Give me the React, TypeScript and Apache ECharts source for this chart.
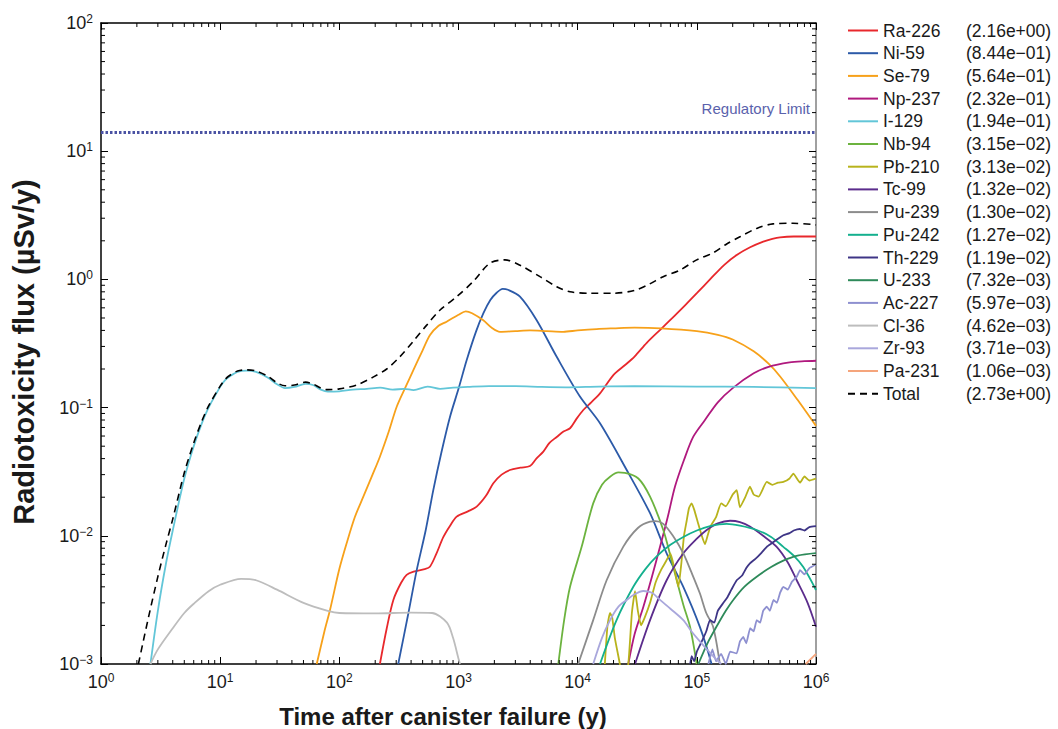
import React, { useEffect, useRef } from "react";
import * as echarts from "echarts";

const FONT = '"Liberation Sans", Arial, Helvetica, sans-serif';

const X_MIN = 1;
const X_MAX = 1e6;
const Y_MIN = 1e-3;
const Y_MAX = 1e2;
const REG_LIMIT = 14;

const RA226: number[][] = [[219,1e-3],[250,1.9e-3],[284,3.16e-3],[330,4.3e-3],[367,4.95e-3],[420,5.25e-3],[520,5.5e-3],[575,5.74e-3],[650,7.2e-3],[747,9.8e-3],[850,1.2e-2],[966,1.41e-2],[1200,1.55e-2],[1421,1.69e-2],[1700,2.05e-2],[1960,2.57e-2],[2300,3.0e-2],[2700,3.26e-2],[3300,3.4e-2],[3980,3.5e-2],[4500,4.0e-2],[5150,4.53e-2],[5800,5.3e-2],[6670,5.9e-2],[7600,6.5e-2],[8630,6.9e-2],[9800,8.2e-2],[11150,9.58e-2],[13000,1.1e-1],[15400,1.29e-1],[20000,1.8e-1],[25000,2.15e-1],[30000,2.5e-1],[38000,3.2e-1],[50000,4.1e-1],[65000,5.2e-1],[80000,6.3e-1],[100000,7.8e-1],[129000,1.0],[170000,1.3],[216000,1.55],[280000,1.78],[361000,1.97],[430000,2.07],[499000,2.13],[650000,2.16],[1e6,2.16]];
const NI59: number[][] = [[312,1e-3],[380,2.5e-3],[446,5.4e-3],[530,1.1e-2],[615,2.28e-2],[720,4.5e-2],[849,8.49e-2],[1000,1.4e-1],[1172,2.35e-1],[1400,3.9e-1],[1615,5.43e-1],[1850,6.9e-1],[2090,7.87e-1],[2350,8.44e-1],[2600,8.3e-1],[3281,7.33e-1],[4530,4.8e-1],[6670,2.49e-1],[10450,1.22e-1],[15400,7.55e-2],[25800,3.26e-2],[40500,1.5e-2],[55800,7.3e-3],[77000,4e-3],[106000,1.95e-3],[133000,1e-3]];
const SE79: number[][] = [[64.6,1e-3],[75,1.8e-3],[83.5,2.64e-3],[100,5.5e-3],[115,8.7e-3],[135,1.4e-2],[159,2.02e-2],[190,3e-2],[219,4.14e-2],[260,6.5e-2],[303,1.016e-1],[360,1.45e-1],[418,1.96e-1],[500,2.8e-1],[577,3.68e-1],[680,4.35e-1],[795,4.68e-1],[1000,5.3e-1],[1150,5.64e-1],[1300,5.45e-1],[1615,4.8e-1],[1900,4.2e-1],[2230,3.9e-1],[3000,3.95e-1],[3980,4.0e-1],[5500,3.95e-1],[7570,3.9e-1],[10000,4.0e-1],[14450,4.1e-1],[20000,4.15e-1],[30000,4.2e-1],[50000,4.15e-1],[100000,3.95e-1],[150000,3.7e-1],[200000,3.4e-1],[300000,2.75e-1],[400000,2.2e-1],[500000,1.75e-1],[700000,1.15e-1],[1e6,7.2e-2]];
const NP237: number[][] = [[26600,1e-3],[30000,1.7e-3],[35600,2.8e-3],[42000,4.8e-3],[49100,8.2e-3],[57000,1.4e-2],[65600,2.42e-2],[78000,3.9e-2],[93400,5.93e-2],[117000,8.0e-2],[150000,1.1e-1],[200000,1.42e-1],[300000,1.85e-1],[400000,2.08e-1],[600000,2.25e-1],[800000,2.3e-1],[1e6,2.32e-1]];
const I129: number[][] = [[2.6,1e-3],[3,2.6e-3],[3.5,6e-3],[4,1.1e-2],[5,2.8e-2],[6,5e-2],[7,7.5e-2],[8,1e-1],[10,1.45e-1],[11,1.64e-1],[12,1.75e-1],[14,1.9e-1],[16.7,1.94e-1],[20,1.9e-1],[25,1.72e-1],[30,1.52e-1],[35,1.42e-1],[42,1.45e-1],[52,1.53e-1],[60,1.5e-1],[70,1.38e-1],[80,1.33e-1],[100,1.34e-1],[130,1.38e-1],[170,1.4e-1],[220,1.43e-1],[280,1.38e-1],[350,1.4e-1],[420,1.37e-1],[550,1.46e-1],[700,1.4e-1],[900,1.43e-1],[1200,1.45e-1],[1800,1.47e-1],[3000,1.47e-1],[5000,1.45e-1],[8000,1.44e-1],[15000,1.46e-1],[30000,1.47e-1],[100000,1.46e-1],[300000,1.45e-1],[1e6,1.42e-1]];
const NB94: number[][] = [[6880,1e-3],[7700,2.2e-3],[8630,4e-3],[10800,8.2e-3],[13500,1.79e-2],[16000,2.5e-2],[18700,2.89e-2],[22000,3.12e-2],[24900,3.1e-2],[32300,2.8e-2],[40500,2.02e-2],[52300,1.11e-2],[60000,7e-3],[67800,4.5e-3],[77000,2.9e-3],[87700,1.95e-3],[99700,1e-3]];
const PB210: number[][] = [[16900,1e-3],[17800,2e-3],[18700,2.5e-3],[19500,2.3e-3],[20500,1.6e-3],[22600,1e-3],[24000,7e-4],[26600,1e-3],[28500,2.5e-3],[30300,3.7e-3],[32000,2.6e-3],[34000,2e-3],[36500,2.3e-3],[40500,3e-3],[45000,4.3e-3],[50000,5.4e-3],[55000,6.3e-3],[60000,7.3e-3],[65000,5.5e-3],[70000,4e-3],[74000,6e-3],[78000,1e-2],[82200,1.31e-2],[86000,1.65e-2],[90500,1.79e-2],[95000,1.6e-2],[102000,1.27e-2],[110000,1e-2],[117000,8.6e-3],[123000,1e-2],[130000,1.18e-2],[145000,1.4e-2],[160000,1.79e-2],[175000,1.7e-2],[200000,2.1e-2],[216000,2.27e-2],[230000,1.67e-2],[255000,2.0e-2],[279000,2.42e-2],[300000,2.1e-2],[330000,2.02e-2],[386000,2.63e-2],[430000,2.5e-2],[480000,2.6e-2],[532000,2.63e-2],[600000,2.8e-2],[646000,3.06e-2],[700000,2.75e-2],[734000,2.6e-2],[800000,2.9e-2],[880000,2.7e-2],[1e6,2.8e-2]];
const TC99: number[][] = [[30300,1e-3],[40500,2.2e-3],[55800,4.5e-3],[77000,7.3e-3],[100000,9.5e-3],[121000,1.11e-2],[150000,1.25e-2],[190000,1.31e-2],[230000,1.28e-2],[279000,1.18e-2],[360000,1.0e-2],[468000,8.2e-3],[580000,6.2e-3],[689000,4.5e-3],[850000,3e-3],[1e6,1.95e-3]];
const PU239: number[][] = [[10100,1e-3],[13500,2.2e-3],[17500,4.5e-3],[24100,8.2e-3],[32000,1.15e-2],[40500,1.29e-2],[45000,1.3e-2],[52300,1.24e-2],[63000,1e-2],[77000,7.3e-3],[90000,5.2e-3],[106000,3.56e-3],[120000,2.5e-3],[137000,1.95e-3],[156000,1e-3]];
const PU242: number[][] = [[15400,1e-3],[21200,2.2e-3],[29300,4e-3],[37000,5.5e-3],[46000,6.9e-3],[60000,8.5e-3],[77000,9.8e-3],[100000,1.1e-2],[129000,1.19e-2],[178000,1.24e-2],[230000,1.2e-2],[318000,1.11e-2],[420000,9.8e-3],[532000,8.2e-3],[650000,7e-3],[782000,5.7e-3],[1e6,3.78e-3]];
const TH229: number[][] = [[88000,1e-3],[90500,1.15e-3],[95000,1.05e-3],[100000,1.25e-3],[110000,1.5e-3],[120000,1.8e-3],[129000,2.2e-3],[140000,2.1e-3],[150000,2.6e-3],[167000,3.0e-3],[180000,3.3e-3],[195000,3.8e-3],[216000,4.5e-3],[240000,4.9e-3],[260000,5.6e-3],[279000,6.1e-3],[310000,6.6e-3],[350000,7.4e-3],[386000,8.2e-3],[430000,8.8e-3],[480000,9.5e-3],[532000,1.01e-2],[600000,1.05e-2],[650000,1.1e-2],[734000,1.13e-2],[800000,1.1e-2],[880000,1.17e-2],[1e6,1.19e-2]];
const U233: number[][] = [[103000,1e-3],[125000,1.5e-3],[146000,1.95e-3],[175000,2.6e-3],[202000,3.16e-3],[250000,4e-3],[318000,4.8e-3],[420000,5.7e-3],[532000,6.4e-3],[700000,7e-3],[1e6,7.32e-3]];
const AC227: number[][] = [[125000,1e-3],[135000,1.3e-3],[145000,1.05e-3],[160000,1.2e-3],[175000,1.0e-3],[190000,1.25e-3],[216000,1.21e-3],[230000,1.5e-3],[245000,1.63e-3],[260000,1.45e-3],[280000,1.9e-3],[300000,1.8e-3],[318000,2.2e-3],[340000,2.1e-3],[360000,2.6e-3],[386000,2.8e-3],[410000,2.6e-3],[440000,3.16e-3],[470000,3.0e-3],[500000,3.6e-3],[532000,4e-3],[580000,3.8e-3],[630000,4.4e-3],[690000,4.8e-3],[734000,5.4e-3],[800000,5.0e-3],[880000,5.6e-3],[1e6,5.97e-3]];
const CL36: number[][] = [[2.6,1e-3],[3,1.3e-3],[4,1.9e-3],[5,2.5e-3],[6,2.95e-3],[8,3.7e-3],[10,4.15e-3],[15,4.62e-3],[20,4.5e-3],[30,3.8e-3],[50,3e-3],[80,2.6e-3],[100,2.5e-3],[200,2.48e-3],[400,2.52e-3],[600,2.5e-3],[800,2.1e-3],[900,1.6e-3],[1000,1.1e-3],[1030,1e-3]];
const ZR93: number[][] = [[13500,1e-3],[16000,1.6e-3],[18700,2.2e-3],[22000,2.8e-3],[25800,3.16e-3],[30000,3.5e-3],[35600,3.71e-3],[42000,3.6e-3],[49100,3.16e-3],[60000,2.7e-3],[77000,2.2e-3],[90000,1.8e-3],[106000,1.5e-3],[137000,1.15e-3],[160000,1e-3]];
const PA231: number[][] = [[820000,1e-3],[1e6,1.2e-3]];
const TOTAL: number[][] = [[2.06,1e-3],[2.5,2.3e-3],[3,4.8e-3],[3.5,8.5e-3],[4,1.35e-2],[5,3.1e-2],[6,5.3e-2],[7,7.8e-2],[8,1.03e-1],[10,1.47e-1],[11,1.66e-1],[12,1.78e-1],[14,1.93e-1],[16.7,1.97e-1],[20,1.93e-1],[25,1.76e-1],[30,1.56e-1],[35,1.48e-1],[42,1.5e-1],[52,1.58e-1],[60,1.53e-1],[70,1.42e-1],[80,1.38e-1],[100,1.4e-1],[140,1.5e-1],[192,1.73e-1],[250,2e-1],[323,2.5e-1],[415,3.27e-1],[541,4.4e-1],[700,5.77e-1],[966,7.33e-1],[1324,9.6e-1],[1837,1.34],[2455,1.42],[3281,1.29],[4830,1.05],[6670,0.877],[8630,0.8],[12700,0.78],[20000,0.78],[30000,0.82],[40000,0.92],[52200,1.05],[72000,1.18],[99700,1.42],[137000,1.61],[178000,1.89],[230000,2.15],[318000,2.5],[436000,2.71],[640000,2.74],[944000,2.68],[1e6,2.66]];

const NAMES = ["Ra-226","Ni-59","Se-79","Np-237","I-129","Nb-94","Pb-210","Tc-99","Pu-239","Pu-242","Th-229","U-233","Ac-227","Cl-36","Zr-93","Pa-231","Total"];
const LEGEND_VALUES = ["(2.16e+00)","(8.44e\u221201)","(5.64e\u221201)","(2.32e\u221201)","(1.94e\u221201)","(3.15e\u221202)","(3.13e\u221202)","(1.32e\u221202)","(1.30e\u221202)","(1.27e\u221202)","(1.19e\u221202)","(7.32e\u221203)","(5.97e\u221203)","(4.62e\u221203)","(3.71e\u221203)","(1.06e\u221203)","(2.73e+00)"];
const SERIES_DATA = [RA226, NI59, SE79, NP237, I129, NB94, PB210, TC99, PU239, PU242, TH229, U233, AC227, CL36, ZR93, PA231, TOTAL];
const COLORS = ["#e8282c","#2c5aa8","#f7a11a","#b0197e","#62c6d8","#6cb33f","#b8b31c","#5b2c8c","#8c8c8c","#14b08e","#3e3586","#2e8a5a","#8e90d0","#bdbdbd","#a9a7dc","#f5a57c","#000000"];
const SMOOTH = [0.3,0.3,0.3,0.3,0.3,0.3,0.15,0.3,0.3,0.3,0.15,0.3,0.1,0.3,0.3,0,0.3];

const MINOR_STEPS = [2,3,4,5,6,7,8,9];
const X_DECADES = [0,1,2,3,4,5];
const Y_DECADES = [-3,-2,-1,0,1];

function expLabel(v: number) {
  const e = Math.round(Math.log10(v));
  const s = e < 0 ? "\u2212" + Math.abs(e) : String(e);
  return "{b|10}{s|" + s + "}";
}

const labelRich = {
  b: { fontFamily: FONT, fontSize: 18, lineHeight: 20, color: "#1a1a1a" },
  s: { fontFamily: FONT, fontSize: 12, lineHeight: 12, color: "#1a1a1a", verticalAlign: "top" },
};

export default function App() {
  const ref = useRef<HTMLDivElement>(null);
  useEffect(() => {
    if (!ref.current) return;
    const chart = echarts.init(ref.current, undefined, { renderer: "svg" });

    const xMinor: number[][] = [];
    X_DECADES.forEach((d) => MINOR_STEPS.forEach((k) => xMinor.push([k * Math.pow(10, d), Y_MIN])));
    const yMinor: number[][] = [];
    Y_DECADES.forEach((d) => MINOR_STEPS.forEach((k) => yMinor.push([X_MIN, k * Math.pow(10, d)])));

    const tickStyle = { stroke: "#000", lineWidth: 1 };

    const lineSeries: any[] = NAMES.map((n, i) => {
      const isTotal = n === "Total";
      const s: any = {
        name: n,
        type: "line",
        data: SERIES_DATA[i],
        showSymbol: false,
        symbol: "none",
        smooth: SMOOTH[i],
        clip: true,
        itemStyle: { color: COLORS[i] },
        lineStyle: { color: COLORS[i], width: isTotal ? 1.6 : 1.8, type: isTotal ? [7, 5] : "solid" },
        z: isTotal ? 5 : 3,
      };
      if (isTotal) {
        s.markLine = {
          silent: true,
          symbol: ["none", "none"],
          data: [{ yAxis: REG_LIMIT }],
          lineStyle: { color: "#4a52a3", width: 3, type: [2.5, 2] },
          label: {
            show: true,
            position: "insideEndTop",
            formatter: "Regulatory Limit",
            color: "#5a62ac",
            fontFamily: FONT,
            fontSize: 15,
            distance: [6, 16],
          },
        };
      }
      return s;
    });

    const option: any = {
      animation: false,
      backgroundColor: "#ffffff",
      grid: { left: 101, right: 242, top: 23, bottom: 65, outerBoundsMode: "none" },
      legend: {
        orient: "vertical",
        left: 842,
        top: 15.5,
        itemWidth: 30,
        itemHeight: 14,
        itemGap: 2.7,
        selectedMode: false,
        data: NAMES,
        itemStyle: { opacity: 0 },
        lineStyle: { width: 2 },
        textStyle: {
          fontFamily: FONT,
          fontSize: 17.5,
          lineHeight: 20,
          color: "#1a1a1a",
          rich: {
            n: { fontFamily: FONT, fontSize: 17.5, lineHeight: 20, width: 83, color: "#1a1a1a" },
            v: { fontFamily: FONT, fontSize: 17.5, lineHeight: 20, color: "#1a1a1a" },
          },
        },
        formatter: (name: string) => "{n|" + name + "}{v|" + LEGEND_VALUES[NAMES.indexOf(name)] + "}",
      },
      xAxis: [
        {
          type: "log", logBase: 10, min: X_MIN, max: X_MAX, splitNumber: 6, position: "bottom",
          axisLine: { lineStyle: { color: "#000", width: 1.5 } },
          axisTick: { inside: true, length: 7, lineStyle: { color: "#000", width: 1 } },
          axisLabel: { formatter: expLabel, rich: labelRich, margin: 8, showMinLabel: true, showMaxLabel: true },
          splitLine: { show: false },
        },
        {
          type: "log", logBase: 10, min: X_MIN, max: X_MAX, splitNumber: 6, position: "top",
          axisLine: { lineStyle: { color: "#000", width: 1.5 } },
          axisTick: { inside: true, length: 7, lineStyle: { color: "#000", width: 1 } },
          axisLabel: { show: false },
          splitLine: { show: false },
        },
      ],
      yAxis: [
        {
          type: "log", logBase: 10, min: Y_MIN, max: Y_MAX, splitNumber: 5, position: "left",
          axisLine: { lineStyle: { color: "#000", width: 1.5 } },
          axisTick: { inside: true, length: 7, lineStyle: { color: "#000", width: 1 } },
          axisLabel: { formatter: expLabel, rich: labelRich, margin: 8, showMinLabel: true, showMaxLabel: true },
          splitLine: { show: false },
        },
        {
          type: "log", logBase: 10, min: Y_MIN, max: Y_MAX, splitNumber: 5, position: "right",
          axisLine: { lineStyle: { color: "#808080", width: 1.5 } },
          axisTick: { inside: true, length: 7, lineStyle: { color: "#000", width: 1 } },
          axisLabel: { show: false },
          splitLine: { show: false },
        },
      ],
      graphic: [
        {
          type: "text", x: 24, y: 352, rotation: Math.PI / 2,
          style: { text: "Radiotoxicity flux (\u00b5Sv/y)", font: "bold 29px " + FONT, fill: "#1a1a1a", textAlign: "center", textVerticalAlign: "middle" },
        },
        {
          type: "text", x: 443, y: 716,
          style: { text: "Time after canister failure (y)", font: "bold 24px " + FONT, fill: "#1a1a1a", textAlign: "center", textVerticalAlign: "middle" },
        },
      ],
      series: [
        ...lineSeries,
        {
          type: "custom", name: "xminor", data: xMinor, clip: false, silent: true, z: 10,
          renderItem: (_p: any, api: any) => {
            const v = api.value(0);
            const b = api.coord([v, Y_MIN]);
            const t = api.coord([v, Y_MAX]);
            return {
              type: "group",
              children: [
                { type: "line", shape: { x1: b[0], y1: b[1], x2: b[0], y2: b[1] - 4 }, style: tickStyle },
                { type: "line", shape: { x1: t[0], y1: t[1], x2: t[0], y2: t[1] + 4 }, style: tickStyle },
              ],
            };
          },
        },
        {
          type: "custom", name: "yminor", data: yMinor, clip: false, silent: true, z: 10,
          renderItem: (_p: any, api: any) => {
            const v = api.value(1);
            const l = api.coord([X_MIN, v]);
            const r = api.coord([X_MAX, v]);
            return {
              type: "group",
              children: [
                { type: "line", shape: { x1: l[0], y1: l[1], x2: l[0] + 4, y2: l[1] }, style: tickStyle },
                { type: "line", shape: { x1: r[0], y1: r[1], x2: r[0] - 4, y2: r[1] }, style: tickStyle },
              ],
            };
          },
        },
      ],
    };
    chart.setOption(option);
    return () => chart.dispose();
  }, []);
  return <div ref={ref} style={{ position: "fixed", left: 0, top: 0, width: 1058, height: 729, background: "#fff" }} />;
}
